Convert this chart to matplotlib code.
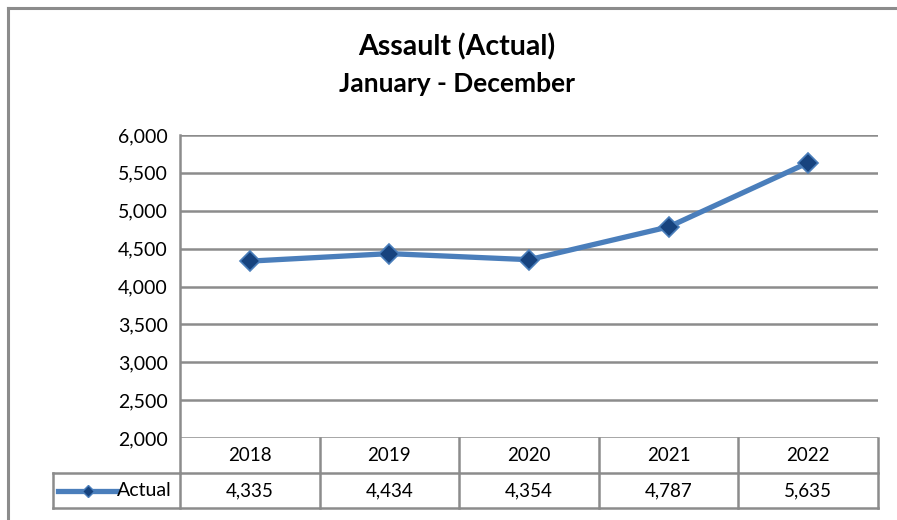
import matplotlib.pyplot as plt
from matplotlib.lines import Line2D
from matplotlib.transforms import blended_transform_factory

years = ["2018", "2019", "2020", "2021", "2022"]
actual = [4335, 4434, 4354, 4787, 5635]
series_name = "Actual"
title = "Assault (Actual)"
subtitle = "January - December"

W, H = 897, 520
GRID = "#8c8c8c"
LINE = "#4a7ebb"
MARK = "#17437e"
plt.rcParams["font.family"] = ["Lato", "DejaVu Sans"]

fig = plt.figure(figsize=(W / 100, H / 100), dpi=100)

# outer chart border (left and top only visible)
fig.add_artist(Line2D([8 / W, 8 / W], [0, 1 - 8 / H], transform=fig.transFigure, color=GRID, lw=2.2))
fig.add_artist(Line2D([8 / W, 1], [1 - 8 / H, 1 - 8 / H], transform=fig.transFigure, color=GRID, lw=2.2))

fig.text(457 / W, 1 - 47 / H, title, ha="center", va="center", fontsize=20.5, fontweight="bold")
fig.text(457 / W, 1 - 84 / H, subtitle, ha="center", va="center", fontsize=19, fontweight="bold")

left, right, top, bottom = 180, 878, 135, 438
ax = fig.add_axes([left / W, 1 - bottom / H, (right - left) / W, (bottom - top) / H])
x = list(range(len(years)))
ax.plot(x, actual, color=LINE, lw=3.8, marker="D", markersize=10.5,
        markerfacecolor=MARK, markeredgecolor=LINE, markeredgewidth=1.2, zorder=3)
ax.set_xlim(-0.5, len(years) - 0.5)
ax.set_ylim(2000, 6000)
ax.set_yticks(range(2000, 6001, 500))
ax.set_yticklabels([f"{v:,}" for v in range(2000, 6001, 500)], fontsize=14)
ax.set_xticks([])
ax.tick_params(axis="y", length=0, pad=9)
ax.grid(axis="y", color=GRID, lw=1.8)
for s in ["top", "right", "bottom", "left"]:
    ax.spines[s].set_visible(False)

# data table below the plot
row_h = 35 / (bottom - top)
tr = blended_transform_factory(ax.transData, ax.transAxes)
kw = dict(color=GRID, lw=1.8, clip_on=False)
ax.plot([-0.5, -0.5], [1, -2 * row_h], transform=tr, **kw)
leg_x = -0.5 - 127 / 139.6
for i in range(len(years)):
    ax.plot([i + 0.5, i + 0.5], [0, -2 * row_h], transform=tr, **kw)
    ax.text(i, -0.5 * row_h, years[i], transform=tr, ha="center", va="center", fontsize=13.5)
    ax.text(i, -1.5 * row_h, f"{actual[i]:,}", transform=tr, ha="center", va="center", fontsize=13.5)
ax.plot([-0.5, len(years) - 0.5], [-row_h, -row_h], transform=tr, **kw)
ax.plot([leg_x, len(years) - 0.5], [-2 * row_h, -2 * row_h], transform=tr, **kw)
ax.plot([leg_x, -0.5], [-row_h, -row_h], transform=tr, **kw)
ax.plot([leg_x, leg_x], [-row_h, -2 * row_h], transform=tr, **kw)

# legend key in the table
k0 = leg_x + 5 / 139.6
k1 = leg_x + 64 / 139.6
ax.plot([k0, k1], [-1.5 * row_h] * 2, transform=tr, color=LINE, lw=3.8, clip_on=False)
ax.plot([(k0 + k1) / 2], [-1.5 * row_h], transform=tr, marker="D", markersize=6,
        markerfacecolor=MARK, markeredgecolor=LINE, clip_on=False)
ax.text(k1, -1.5 * row_h, series_name, transform=tr, ha="left", va="center", fontsize=14)

fig.savefig("out.png", dpi=100)
